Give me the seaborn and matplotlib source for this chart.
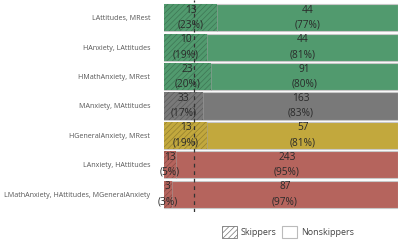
import matplotlib
matplotlib.use("Agg")
import matplotlib.pyplot as plt
from matplotlib.patches import Patch
import pandas as pd
import seaborn as sns

# Data
groups = [
    "LAttitudes, MRest",
    "HAnxiety, LAttitudes",
    "HMathAnxiety, MRest",
    "MAnxiety, MAttitudes",
    "HGeneralAnxiety, MRest",
    "LAnxiety, HAttitudes",
    "LMathAnxiety, HAttitudes, MGeneralAnxiety",
]
skippers = [13, 10, 23, 33, 13, 13, 3]
nonskippers = [44, 44, 91, 163, 57, 243, 87]
colors = ["#519a6e", "#519a6e", "#519a6e", "#797979", "#c2a83d", "#b5645d", "#b5645d"]

df = pd.DataFrame({"group": groups, "skip": skippers, "nonskip": nonskippers})
df["total"] = df["skip"] + df["nonskip"]
df["skip_pct"] = df["skip"] / df["total"] * 100
df["nonskip_pct"] = df["nonskip"] / df["total"] * 100
df["total_pct"] = df["skip_pct"] + df["nonskip_pct"]
overall = df["skip"].sum() / df["total"].sum() * 100

sns.set_style("white")
plt.rcParams["font.family"] = ["Open Sans", "DejaVu Sans"]
plt.rcParams["hatch.linewidth"] = 0.5

fig = plt.figure(figsize=(4.0, 2.42), dpi=100)
ax = fig.add_axes([0.41, 0.124, 0.585, 0.876])

palette = dict(zip(groups, colors))

# 1. Full bars (nonskippers) in the group colour
sns.barplot(data=df, y="group", x="total_pct", hue="group", palette=palette,
            width=0.92, edgecolor="#c8c8c8", linewidth=0.8, legend=False,
            saturation=1, ax=ax)

# 2. Skipper part on top, hatched (no outline, the full bar gives it)
n_before = len(ax.patches)
sns.barplot(data=df, y="group", x="skip_pct", hue="group", palette=palette,
            width=0.92, edgecolor="#c8c8c8", linewidth=0, legend=False,
            saturation=1, ax=ax)
for p in ax.patches[n_before:]:
    fc = p.get_facecolor()
    p.set_hatch("//////")
    p.set_edgecolor((fc[0] * 0.72, fc[1] * 0.72, fc[2] * 0.72, 0.85))
    p.set_linewidth(0)

# thin divider between the two segments
for i, row in df.iterrows():
    ax.plot([row["skip_pct"]] * 2, [i - 0.44, i + 0.44], color="#a0a0a0",
            linewidth=0.5, alpha=0.7)

# 3. Labels inside the segments
for i, row in df.iterrows():
    ax.text(row["skip_pct"] / 2, i, f"{row['skip']}\n({row['skip_pct']:.0f}%)",
            ha="center", va="center", fontsize=7.3, color="#2a2a2a",
            linespacing=1.5)
    ax.text(row["skip_pct"] + row["nonskip_pct"] / 2, i,
            f"{row['nonskip']}\n({row['nonskip_pct']:.0f}%)",
            ha="center", va="center", fontsize=7.3, color="#2a2a2a",
            linespacing=1.5)

# 4. Overall skipper rate
ax.axvline(overall, color="#333333", linestyle=(0, (3, 3)), linewidth=0.9)

ax.set_xlim(0, 100)
ax.set_ylim(6.6, -0.6)
ax.set_xlabel("")
ax.set_ylabel("")
ax.set_xticks([])
ax.tick_params(axis="y", length=0, pad=10, labelsize=5.1, labelcolor="#555555")
sns.despine(ax=ax, left=True, bottom=True)

handles = [
    Patch(facecolor="white", edgecolor="#777777", hatch="//////", linewidth=0.6),
    Patch(facecolor="white", edgecolor="#bbbbbb", linewidth=0.8),
]
fig.legend(handles, ["Skippers", "Nonskippers"], loc="center",
           bbox_to_anchor=(0.72, 0.043), ncol=2, frameon=False, fontsize=6.5,
           handlelength=1.7, handleheight=1.7, columnspacing=0.6,
           handletextpad=0.4, labelcolor="#444444")

fig.savefig("out.png", dpi=100)
